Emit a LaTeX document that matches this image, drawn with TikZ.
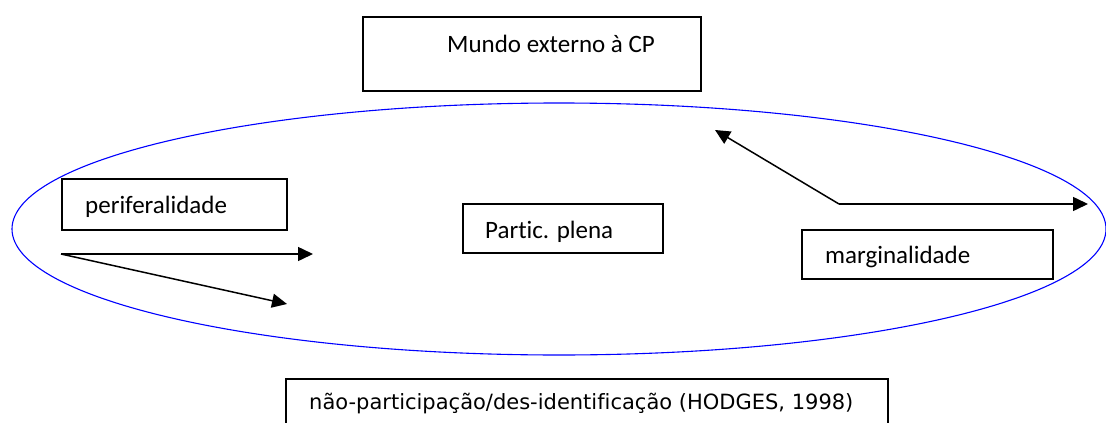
\documentclass[tikz,border=0pt]{standalone}
\usepackage{fontspec}
\setmainfont{Carlito}[Ligatures=NoCommon]
\newfontfamily\vfont{DejaVu Sans}[Ligatures=NoCommon]
\usetikzlibrary{arrows.meta}
\begin{document}
\begin{tikzpicture}[x=1pt,y=-1pt,
  frame/.style={draw=black, line width=1.3pt, inner sep=0pt, minimum width=#1},
  lbl/.style={anchor=base west, inner sep=0pt, font=\fontsize{25}{30}\selectfont},
  link/.style={draw=black, line width=1.5pt, -{Triangle[length=15pt,width=14pt]}}]
  \useasboundingbox (0,0) rectangle (1106,423);
  \clip (0,0) rectangle (1106,423);
  \fill[white] (0,0) rectangle (1106,423);

  % community of practice
  \draw[blue, line width=1.1pt] (559,229) ellipse [x radius=547, y radius=126];

  % boxes
  \node[frame=338pt, minimum height=74pt] (world) at (532,54) {};
  \node[frame=225pt, minimum height=51pt] (peri) at (174.5,204.5) {};
  \node[frame=200pt, minimum height=49pt] (full) at (563,228.5) {};
  \node[frame=251pt, minimum height=49pt] (marg) at (927.5,254.5) {};
  \node[frame=602pt, minimum height=70pt] (nonp) at (587,414) {};

  % labels
  \node[lbl] (tworld) at (447,52) {Mundo externo à CP};
  \node[lbl] (tperi) at (85,213) {periferalidade};
  \node[lbl] (tfull) at (485,238) {Partic. plena};
  \node[lbl] (tmarg) at (825,263) {marginalidade};
  \node[lbl, font=\vfont\fontsize{21}{25}\selectfont] (tnonp) at (309,409)
    {não-participação/des-identificação (HODGES, 1998)};

  % trajectories
  \coordinate (ps) at (61,254);
  \coordinate (pe1) at (313,254);
  \coordinate (pe2) at (287,304);
  \coordinate (ms) at (839,204);
  \coordinate (me1) at (1088,204);
  \coordinate (me2) at (715,130);
  \draw[link] (ps) -- (pe1);
  \draw[link] (ps) -- (pe2);
  \draw[link] (ms) -- (me1);
  \draw[link] (ms) -- (me2);
\end{tikzpicture}
\end{document}
